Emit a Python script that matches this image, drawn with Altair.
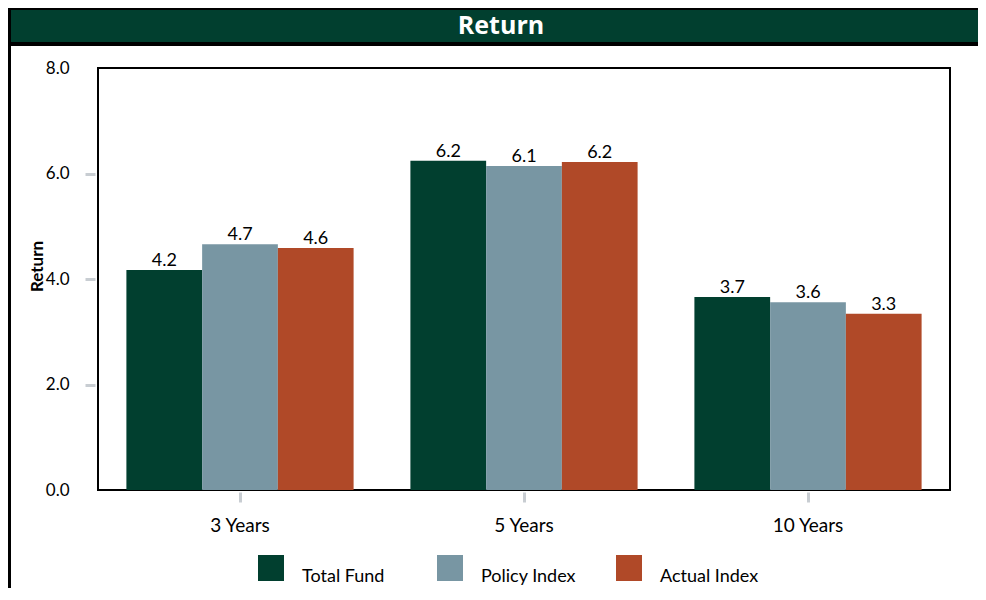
import altair as alt
import pandas as pd

periods = ["3 Years", "5 Years", "10 Years"]
series = ["Total Fund", "Policy Index", "Actual Index"]
total_fund = [4.17, 6.24, 3.66]
policy_index = [4.66, 6.14, 3.56]
actual_index = [4.59, 6.22, 3.34]
colors = ["#013F2F", "#7896A3", "#B04928"]
y_ticks = [0, 2, 4, 6, 8]
chart_title = "Return"

rows = []
for name, vals in zip(series, [total_fund, policy_index, actual_index]):
    for p, v in zip(periods, vals):
        rows.append({"Period": p, "Series": name, "Return": v})
df = pd.DataFrame(rows)

W, H = 852, 422
FONT = "Lato"
TICK = "#C8CDD2"

x = alt.X("Period:N", sort=periods, title=None,
          scale=alt.Scale(paddingInner=0.2, paddingOuter=0.1),
          axis=alt.Axis(labelAngle=0, labelFontSize=19, labelColor="black", labelFont=FONT,
                        tickColor=TICK, tickWidth=3, tickSize=10, offset=2, domain=False,
                        labelPadding=14, grid=False))
xo = alt.XOffset("Series:N", sort=series)
y = alt.Y("Return:Q", scale=alt.Scale(domain=[0, 8], nice=False),
          axis=alt.Axis(values=y_ticks, format=".1f", title="Return", titleFontSize=17,
                        titleFontWeight="bold", titleFont=FONT, titleColor="black",
                        titleX=-49, titleY=198,
                        labelFontSize=17, labelFont=FONT, labelColor="black", labelPadding=16,
                        tickSize=10, tickWidth=3, tickColor=TICK,
                        tickOpacity={"condition": {"test": "datum.value == 0 || datum.value == 8", "value": 0}, "value": 1},
                        offset=3, domain=False, grid=False))

deco = alt.Chart(pd.DataFrame({"t": [chart_title]}))

left_line = deco.mark_rect(color="black").encode(
    x=alt.value(-90), x2=alt.value(-87), y=alt.value(-60), y2=alt.value(H + 120))
bar_border = deco.mark_rect(color="black").encode(
    x=alt.value(-90), x2=alt.value(W + 40), y=alt.value(-60), y2=alt.value(-22))
bar_fill = deco.mark_rect(color="#013F2F").encode(
    x=alt.value(-87), x2=alt.value(W + 40), y=alt.value(-58), y2=alt.value(-26))
title_text = deco.mark_text(align="center", baseline="alphabetic", fontSize=25, fontWeight="bold",
                            font="Open Sans", color="white").encode(
    text="t:N", x=alt.value(403), y=alt.value(-34))

bars = alt.Chart(df).mark_bar().encode(
    x=x, xOffset=xo, y=y,
    color=alt.Color("Series:N", sort=series,
                    scale=alt.Scale(domain=series, range=colors),
                    legend=alt.Legend(title=None, orient="none", legendX=160, legendY=487,
                                      direction="horizontal", symbolType="square",
                                      symbolSize=676, symbolStrokeWidth=0, symbolOpacity=1,
                                      labelOffset=18, columnPadding=36, gridAlign="all",
                                      labelFontSize=18, labelFont=FONT, labelColor="black",
                                      labelBaseline="top", padding=0)))

labels = alt.Chart(df).mark_text(baseline="alphabetic", dy=-4, fontSize=18, font=FONT,
                                 color="black").encode(
    x=x, xOffset=xo, y=y, text=alt.Text("Return:Q", format=".1f"))

chart = alt.layer(left_line, bar_border, bar_fill, title_text, bars, labels).properties(
    width=W, height=H,
    autosize=alt.AutoSizeParams(type="none"),
    padding={"left": 90, "top": 60, "right": 28, "bottom": 98},
).configure_view(stroke="black", strokeWidth=2)

chart.save("out.html", embed_options={"renderer": "svg", "actions": False})
